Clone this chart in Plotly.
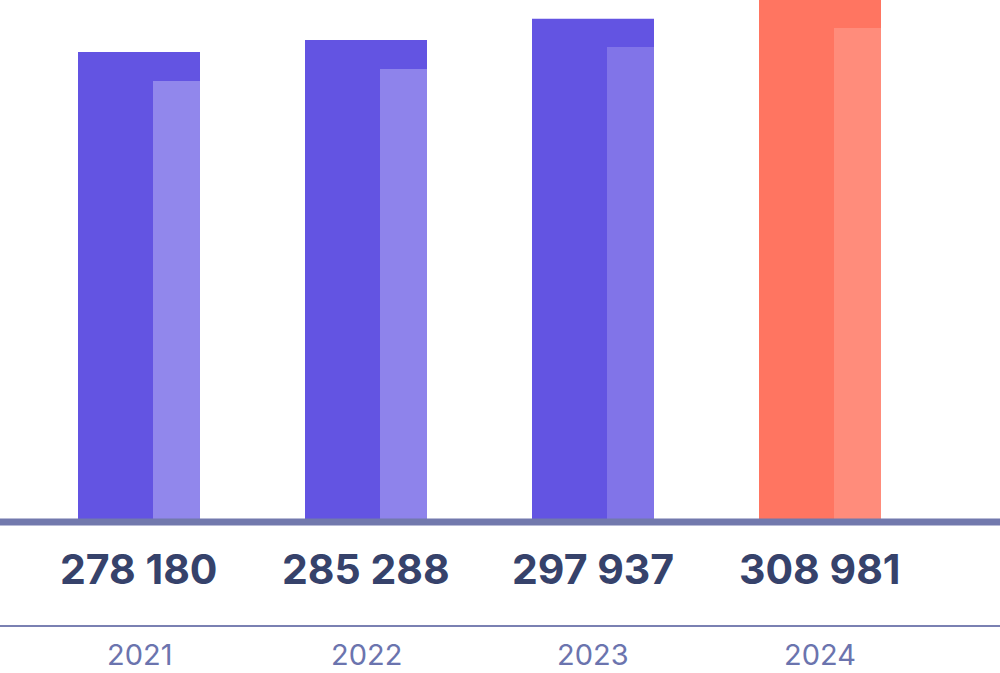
import plotly.graph_objects as go

years = ["2021", "2022", "2023", "2024"]
values = [278180, 285288, 297937, 308981]
inner_values = [261000, 268100, 281100, 292400]
dark_colors = ["#6354E2", "#6354E2", "#6354E2", "#FF7561"]
light_colors = ["#9187EC", "#8E83EB", "#8174E8", "#FF8C7B"]

xpos = list(range(len(years)))
W, H = 1000, 673
plot_h = 522
px_per_unit = 227

fig = go.Figure()
fig.add_trace(go.Bar(x=xpos, y=values, marker=dict(color=dark_colors, line_width=0),
                     width=122 / px_per_unit, offset=-61 / px_per_unit, hoverinfo="skip"))
fig.add_trace(go.Bar(x=xpos, y=inner_values, marker=dict(color=light_colors, line_width=0),
                     width=47 / px_per_unit, offset=14 / px_per_unit, hoverinfo="skip"))

# baseline thick and thin separator
fig.add_shape(type="line", xref="paper", yref="paper", x0=0, x1=1, y0=0, y1=0,
              line=dict(color="#7279AD", width=7), layer="above")
fig.add_shape(type="line", xref="paper", yref="paper", x0=0, x1=1,
              y0=(plot_h - 626) / plot_h, y1=(plot_h - 626) / plot_h,
              line=dict(color="#7A80B2", width=2))

for i, (yr, v) in enumerate(zip(years, values)):
    fig.add_annotation(x=i, y=(plot_h - 569) / plot_h, xref="x", yref="paper",
                       text="<b>" + f"{v:,}".replace(",", " ") + "</b>", showarrow=False,
                       yanchor="middle", xanchor="center",
                       font=dict(family="Inter", size=41, color="#36426B"))
    fig.add_annotation(x=i, y=(plot_h - 654) / plot_h, xref="x", yref="paper",
                       text=yr, showarrow=False, yanchor="middle", xanchor="center",
                       borderpad=0,
                       font=dict(family="Inter", size=29, color="#6B74AE"))

fig.update_layout(
    width=W, height=H, margin=dict(l=0, r=0, t=0, b=H - plot_h),
    barmode="overlay", showlegend=False,
    plot_bgcolor="white", paper_bgcolor="white",
    xaxis=dict(range=[-139 / px_per_unit, (W - 139) / px_per_unit], visible=False, fixedrange=True),
    yaxis=dict(range=[0, max(values)], visible=False, fixedrange=True),
)
fig.write_html("out.html", config={"displayModeBar": False})

with open("out.html", "r", encoding="utf-8") as f:
    html = f.read()
html = html.replace("<head>", "<head><style>html,body{margin:0;padding:0;overflow:hidden}</style>", 1)
with open("out.html", "w", encoding="utf-8") as f:
    f.write(html)
